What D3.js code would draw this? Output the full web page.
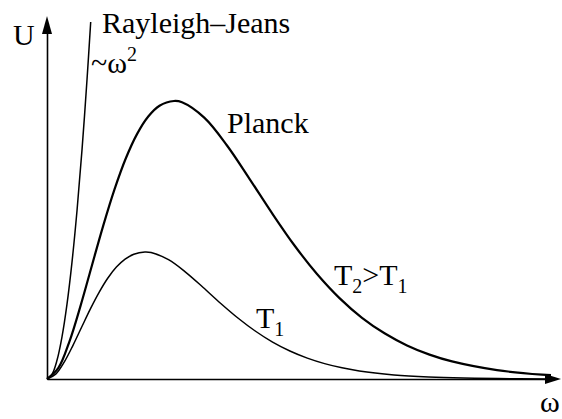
<!DOCTYPE html>
<html>
<head>
<meta charset="utf-8">
<script src="https://cdn.jsdelivr.net/npm/d3@7"></script>
</head>
<body style="margin:0;background:#fff">
<script>
// Frequency ω (arbitrary units) and spectral energy density U (arbitrary units)
const planckHotOmega = [0, 1.125, 2.25, 3.375, 4.5, 5.625, 6.75, 7.875, 9, 10.125, 11.25, 12.7, 13.5, 15.75, 18, 20.25, 22.5, 24.75, 27, 29.25, 31.5, 33.75, 36, 38.25, 40.5, 45, 49.5, 50.4];
const planckHotU     = [0, 1.08, 3.77, 7.39, 11.38, 15.34, 18.96, 22.05, 24.49, 26.25, 27.33, 27.8, 27.67, 26.11, 23.35, 20.02, 16.59, 13.35, 10.5, 8.09, 6.12, 4.57, 3.36, 2.44, 1.76, 0.89, 0.43, 0.38];

const planckColdOmega = [0, 0.87, 1.735, 2.6, 3.47, 4.34, 5.21, 6.07, 6.94, 7.81, 8.68, 9.79, 10.41, 12.15, 13.88, 15.62, 17.35, 19.09, 20.82, 22.56, 24.29, 26.03, 27.76, 29.5, 31.23, 34.7, 38.17, 41.64, 45.1, 50];
const planckColdU     = [0, 0.49, 1.72, 3.37, 5.2, 7.01, 8.66, 10.07, 11.19, 11.99, 12.48, 12.7, 12.64, 11.93, 10.67, 9.15, 7.58, 6.1, 4.8, 3.69, 2.8, 2.09, 1.54, 1.12, 0.8, 0.41, 0.2, 0.09, 0.04, 0.01];

const rayleighOmega = [0, 0.5, 1, 1.5, 2, 2.5, 3, 3.5, 4, 4.37];
const rayleighU     = [0, 0.47, 1.87, 4.21, 7.48, 11.69, 16.83, 22.91, 29.92, 35.7];

const W = 562, H = 419;
const svg = d3.select("body").append("svg").attr("width", W).attr("height", H)
  .style("display", "block");

const x = d3.scaleLinear().domain([0, 50]).range([47, 547]);
const y = d3.scaleLinear().domain([0, 36]).range([379, 19]);

const omegaTip = 51.4, uTip = 36.3;   // arrow tips of the axes

// axes without ticks
const xAxisScale = d3.scaleLinear().domain([0, omegaTip - 1.2]).range([x(0), x(omegaTip - 1.2)]);
const yAxisScale = d3.scaleLinear().domain([0, uTip - 1.7]).range([y(0), y(uTip - 1.7)]);

svg.append("g")
  .attr("transform", `translate(0,${y(0)})`)
  .call(d3.axisBottom(xAxisScale).tickValues([]).tickSizeOuter(0))
  .call(g => g.select(".domain").attr("stroke", "#000").attr("stroke-width", 1.6));

svg.append("g")
  .attr("transform", `translate(${x(0)},0)`)
  .call(d3.axisLeft(yAxisScale).tickValues([]).tickSizeOuter(0))
  .call(g => g.select(".domain").attr("stroke", "#000").attr("stroke-width", 1.6));

// arrowheads
const xt = x(omegaTip), y0 = y(0);
svg.append("path")
  .attr("d", `M${xt},${y0} L${xt - 16},${y0 - 5} L${xt - 16},${y0 + 5} Z`)
  .attr("fill", "#000");
const yt = y(uTip), x0 = x(0);
svg.append("path")
  .attr("d", `M${x0},${yt} L${x0 - 5},${yt + 18} L${x0 + 5},${yt + 18} Z`)
  .attr("fill", "#000");

const line = d3.line()
  .x(d => x(d[0]))
  .y(d => y(d[1]))
  .curve(d3.curveCatmullRom.alpha(0.5));

const zip = (a, b) => a.map((v, i) => [v, b[i]]);

svg.append("path")
  .datum(zip(planckHotOmega, planckHotU))
  .attr("d", line)
  .attr("fill", "none").attr("stroke", "#000").attr("stroke-width", 2.2);

svg.append("path")
  .datum(zip(planckColdOmega, planckColdU))
  .attr("d", line)
  .attr("fill", "none").attr("stroke", "#000").attr("stroke-width", 1.5);

svg.append("path")
  .datum(zip(rayleighOmega, rayleighU))
  .attr("d", line)
  .attr("fill", "none").attr("stroke", "#000").attr("stroke-width", 1.5);

// labels
const fs = 30;
const label = (px, py) => svg.append("text")
  .attr("x", px).attr("y", py)
  .style("font-family", "'Liberation Serif'")
  .style("font-size", fs + "px")
  .style("fill", "#000");

label(13, 45).text("U");
label(540, 412).text("ω");
label(102, 33).text("Rayleigh–Jeans");

const rj = label(91, 73);
rj.append("tspan").text("~ω");
rj.append("tspan").style("font-size", "20px").attr("dy", -12).text("2");

label(227, 133).text("Planck");

const t21 = label(334, 285);
t21.append("tspan").text("T");
t21.append("tspan").style("font-size", "20px").attr("dy", 8).text("2");
t21.append("tspan").attr("dy", -8).text(">T");
t21.append("tspan").style("font-size", "20px").attr("dy", 8).text("1");

const t1 = label(256, 328);
t1.append("tspan").text("T");
t1.append("tspan").style("font-size", "20px").attr("dy", 8).text("1");
</script>
</body>
</html>
